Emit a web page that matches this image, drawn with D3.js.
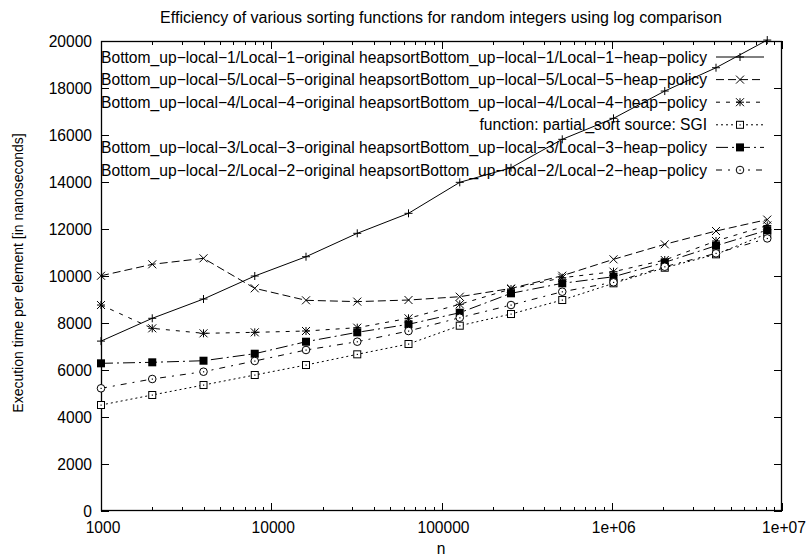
<!DOCTYPE html>
<html><head><meta charset="utf-8">
<script src="https://cdn.jsdelivr.net/npm/d3@7"></script>
<style>body{margin:0;background:#fff}svg{display:block}text{font-family:"Liberation Sans",Arial,sans-serif;fill:#000}</style>
</head><body><svg id="c" width="808" height="558"></svg>
<script>
const nValues = [1000,2000,4000,8000,16000,32000,64000,128000,256000,512000,1024000,2048000,4096000,8192000];
const local1 = [7230,8200,9020,10000,10820,11816,12667,13986,14607,15816,16709,17871,18863,20040];
const local5 = [10010,10497,10752,9476,8965,8910,8978,9119,9470,10012,10709,11348,11914,12400];
const local4 = [8765,7773,7561,7603,7659,7801,8199,8795,9446,9927,10183,10680,11489,12150];
const partialSort = [4510,4936,5361,5787,6212,6667,7106,7885,8382,8978,9689,10352,10922,11800];
const local3 = [6284,6327,6395,6693,7204,7603,7944,8438,9263,9689,9969,10582,11289,11950];
const local2 = [5221,5617,5927,6383,6851,7204,7659,8225,8765,9331,9731,10395,10965,11600];
const seriesNames = [
 "Bottom_up\u2212local\u22121/Local\u22121\u2212original heapsortBottom_up\u2212local\u22121/Local\u22121\u2212heap\u2212policy",
 "Bottom_up\u2212local\u22125/Local\u22125\u2212original heapsortBottom_up\u2212local\u22125/Local\u22125\u2212heap\u2212policy",
 "Bottom_up\u2212local\u22124/Local\u22124\u2212original heapsortBottom_up\u2212local\u22124/Local\u22124\u2212heap\u2212policy",
 "function: partial_sort source: SGI",
 "Bottom_up\u2212local\u22123/Local\u22123\u2212original heapsortBottom_up\u2212local\u22123/Local\u22123\u2212heap\u2212policy",
 "Bottom_up\u2212local\u22122/Local\u22122\u2212original heapsortBottom_up\u2212local\u22122/Local\u22122\u2212heap\u2212policy"
];
const seriesValues = [local1, local5, local4, partialSort, local3, local2];
const dashes = ["", "8,4", "4,6", "2,3", "12,4,2,4", "6,6,2,6"];
const markers = ["plus","cross","star","box","fbox","circle"];
const yTicks = [0,2000,4000,6000,8000,10000,12000,14000,16000,18000,20000];
const xTicks = [1000,10000,100000,1000000,10000000];
const xTickLabels = ["1000","10000","100000","1e+06","1e+07"];
const titleText = "Efficiency of various sorting functions for random integers using log comparison";

const L=101,R=782,T=41,B=511;
const FS=15.6;
const svg = d3.select("#c");
const x = d3.scaleLog().domain([1000,10000000]).range([L,R]);
const y = d3.scaleLinear().domain([0,20000]).range([B,T]);

// ticks
const minor=[];
for(let d=1000; d<10000000; d*=10) for(let k=2;k<=9;k++) minor.push(d*k);
const tk = svg.append("g").attr("stroke","#000").attr("stroke-width",1);
xTicks.forEach(v=>{const px=Math.round(x(v))+0.5;
  tk.append("line").attr("x1",px).attr("x2",px).attr("y1",B).attr("y2",B-8);
  tk.append("line").attr("x1",px).attr("x2",px).attr("y1",T).attr("y2",T+8);});
minor.forEach(v=>{const px=Math.round(x(v))+0.5;
  tk.append("line").attr("x1",px).attr("x2",px).attr("y1",B).attr("y2",B-4);
  tk.append("line").attr("x1",px).attr("x2",px).attr("y1",T).attr("y2",T+4);});
yTicks.forEach(v=>{const py=Math.round(y(v))+0.5;
  tk.append("line").attr("x1",L).attr("x2",L+8).attr("y1",py).attr("y2",py);
  tk.append("line").attr("x1",R).attr("x2",R-8).attr("y1",py).attr("y2",py);});

// border
svg.append("rect").attr("x",L+0.5).attr("y",T+0.5).attr("width",R-L-1).attr("height",B-T-1)
  .attr("fill","none").attr("stroke","#000").attr("stroke-width",1.3);

// tick labels
yTicks.forEach(v=>svg.append("text").attr("x",92).attr("y",y(v)+5.5).attr("text-anchor","end")
  .attr("font-size",FS).text(v));
xTicks.forEach((v,i)=>svg.append("text").attr("x",x(v)+2).attr("y",533).attr("text-anchor","middle")
  .attr("font-size",FS).text(xTickLabels[i]));

svg.append("text").attr("x",441).attr("y",554).attr("text-anchor","middle").attr("font-size",FS).text("n");
svg.append("text").attr("transform","translate(23,273) rotate(-90)").attr("text-anchor","middle")
  .attr("font-size",14).text("Execution time per element [in nanoseconds]");
const title = svg.append("text").attr("x",441).attr("y",23).attr("text-anchor","middle").attr("font-size",FS).text(titleText);
// fit title width to reference (~562px)
{const w=title.node().getComputedTextLength(); title.attr("font-size",FS*562/w);}

function marker(g, type, cx, cy){
  const s=4;
  if(type==="plus"||type==="star"){
    g.append("path").attr("d",`M${cx-s},${cy}H${cx+s}M${cx},${cy-s}V${cy+s}`).attr("stroke","#000").attr("fill","none");
  }
  if(type==="cross"||type==="star"){
    g.append("path").attr("d",`M${cx-s},${cy-s}L${cx+s},${cy+s}M${cx-s},${cy+s}L${cx+s},${cy-s}`).attr("stroke","#000").attr("fill","none");
  }
  if(type==="box"){
    g.append("rect").attr("x",cx-3.5).attr("y",cy-3.5).attr("width",7).attr("height",7).attr("fill","#fff").attr("stroke","#000");
    g.append("rect").attr("x",cx-0.5).attr("y",cy-0.5).attr("width",1.2).attr("height",1.2).attr("fill","#000");
  }
  if(type==="fbox"){
    g.append("rect").attr("x",cx-4).attr("y",cy-4).attr("width",8).attr("height",8).attr("fill","#000");
  }
  if(type==="circle"){
    g.append("circle").attr("cx",cx).attr("cy",cy).attr("r",3.8).attr("fill","#fff").attr("stroke","#000");
    g.append("rect").attr("x",cx-0.5).attr("y",cy-0.5).attr("width",1.2).attr("height",1.2).attr("fill","#000");
  }
}

const line = d3.line().x((d,i)=>x(nValues[i])).y(d=>y(d));
const plot = svg.append("g");
seriesValues.forEach((vals,si)=>{
  plot.append("path").datum(vals).attr("d",line).attr("fill","none").attr("stroke","#000")
    .attr("stroke-width",1).attr("stroke-dasharray",dashes[si]||null);
});
seriesValues.forEach((vals,si)=>{
  const g=plot.append("g");
  vals.forEach((v,i)=>marker(g,markers[si],x(nValues[i]),y(v)));
});

// legend
const lg = svg.append("g");
let legFS = FS;
seriesNames.forEach((name,i)=>{
  const ly = 57 + i*22.6;
  const t = lg.append("text").attr("x",707).attr("y",ly+5.5).attr("text-anchor","end").attr("font-size",FS).text(name);
  if(i===0){const w=t.node().getComputedTextLength(); legFS = FS*606/w;}
  t.attr("font-size",legFS);
  lg.append("line").attr("x1",716).attr("x2",764).attr("y1",ly).attr("y2",ly).attr("stroke","#000")
    .attr("stroke-dasharray",dashes[i]||null);
  marker(lg,markers[i],740,ly);
});
</script></body></html>
